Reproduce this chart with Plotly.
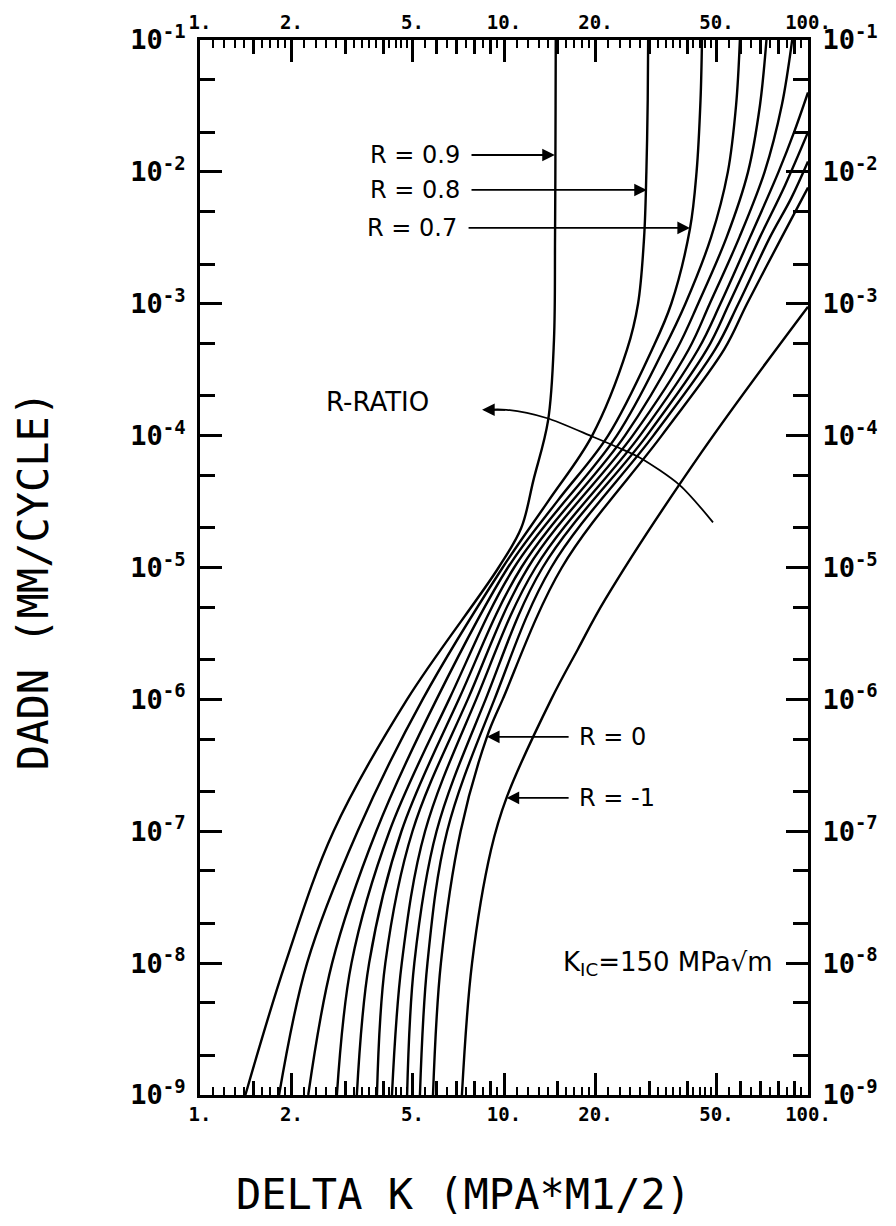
import numpy as np
import plotly.graph_objects as go

# ---------------- data ----------------
r_labels = ["0.9", "0.8", "0.7", "0.6", "0.5", "0.4", "0.3", "0.2", "0.1", "0", "-1"]

dk_r09 = [1.41, 1.91, 2.75, 4.8, 9.6, 11.4, 12.5, 13.96, 14.6, 14.72, 14.78, 14.8]
rate_r09 = [1e-9, 1e-8, 1e-7, 1e-6, 1e-5, 2.0e-5, 4.6e-5, 1.3e-4, 5.3e-4, 3.2e-3, 3.2e-2, 1e-1]

dk_r08 = [1.82, 2.25, 3.3, 5.4, 9.9, 14.0, 19.5, 25.4, 27.6, 28.9, 29.4, 29.7, 29.8]
rate_r08 = [1e-9, 1e-8, 1e-7, 1e-6, 1e-5, 3.2e-5, 1e-4, 4.5e-4, 1e-3, 3.2e-3, 1e-2, 3.5e-2, 1e-1]

dk_r07 = [2.27, 2.72, 3.8, 6.0, 10.3, 15.0, 22.0, 30.7, 35.5, 40.9, 43.0, 44.3, 44.8]
rate_r07 = [1e-9, 1e-8, 1e-7, 1e-6, 1e-5, 3.2e-5, 1e-4, 4.5e-4, 1e-3, 3.7e-3, 1e-2, 3.5e-2, 1e-1]

dk_r06 = [2.82, 3.15, 4.2, 6.6, 10.8, 23.5, 33.5, 39.5, 48.0, 54.5, 58.0, 59.7]
rate_r06 = [1e-9, 1e-8, 1e-7, 1e-6, 1e-5, 1e-4, 4.5e-4, 1e-3, 3.2e-3, 1e-2, 3.2e-2, 1e-1]

dk_r05 = [3.28, 3.6, 4.6, 7.1, 11.4, 25.0, 37.0, 43.5, 54.0, 63.5, 69.5, 73.0]
rate_r05 = [1e-9, 1e-8, 1e-7, 1e-6, 1e-5, 1e-4, 4.5e-4, 1e-3, 3.2e-3, 1e-2, 3.2e-2, 1e-1]

dk_r04 = [3.82, 4.07, 5.0, 7.6, 12.0, 26.5, 40.5, 47.5, 59.5, 72.0, 82.0, 88.7]
rate_r04 = [1e-9, 1e-8, 1e-7, 1e-6, 1e-5, 1e-4, 4.5e-4, 1e-3, 3.2e-3, 1e-2, 3.2e-2, 1e-1]

dk_r03 = [4.28, 4.61, 5.5, 8.1, 12.7, 28.0, 43.5, 51.5, 64.5, 80.0, 90.0, 100.0]
rate_r03 = [1e-9, 1e-8, 1e-7, 1e-6, 1e-5, 1e-4, 4.5e-4, 1e-3, 3.2e-3, 1e-2, 2.0e-2, 4.0e-2]

dk_r02 = [4.80, 5.07, 6.0, 8.7, 13.4, 29.5, 46.5, 55.0, 69.5, 84.0, 100.0]
rate_r02 = [1e-9, 1e-8, 1e-7, 1e-6, 1e-5, 1e-4, 4.5e-4, 1e-3, 3.2e-3, 7.9e-3, 2.0e-2]

dk_r01 = [5.29, 5.6, 6.5, 9.3, 14.3, 31.0, 49.5, 59.0, 75.0, 88.0, 100.0]
rate_r01 = [1e-9, 1e-8, 1e-7, 1e-6, 1e-5, 1e-4, 4.5e-4, 1e-3, 3.2e-3, 6.3e-3, 1.2e-2]

dk_r00 = [5.84, 6.2, 7.2, 8.79, 9.9, 15.5, 33.0, 53.0, 63.0, 82.0, 100.0]
rate_r00 = [1e-9, 1e-8, 1e-7, 5.2e-7, 1e-6, 1e-5, 1e-4, 4.5e-4, 1e-3, 3.2e-3, 7.6e-3]

dk_rm1 = [7.27, 7.85, 9.06, 10.2, 14.3, 17.5, 21.5, 44.5, 100.0]
rate_rm1 = [1e-9, 1e-8, 7.2e-8, 1.8e-7, 1e-6, 2.4e-6, 5.7e-6, 7.4e-5, 9.5e-4]

curves_dk = [dk_r09, dk_r08, dk_r07, dk_r06, dk_r05, dk_r04, dk_r03, dk_r02, dk_r01, dk_r00, dk_rm1]
curves_rate = [rate_r09, rate_r08, rate_r07, rate_r06, rate_r05, rate_r04, rate_r03, rate_r02,
               rate_r01, rate_r00, rate_rm1]

# R-ratio arc
arc_dk = [8.6, 10.2, 13.8, 19.6, 23.5, 28.0, 37.9, 48.7]
arc_rate = [1.57e-4, 1.57e-4, 1.36e-4, 9.8e-5, 8.2e-5, 6.8e-5, 4.2e-5, 2.2e-5]

# ticks
y_major = [1e-9, 1e-8, 1e-7, 1e-6, 1e-5, 1e-4, 1e-3, 1e-2, 1e-1]
y_text = ["10<sup>-9</sup>", "10<sup>-8</sup>", "10<sup>-7</sup>", "10<sup>-6</sup>", "10<sup>-5</sup>",
          "10<sup>-4</sup>", "10<sup>-3</sup>", "10<sup>-2</sup>", "10<sup>-1</sup>"]
y_minor = [m * d for d in [1e-9, 1e-8, 1e-7, 1e-6, 1e-5, 1e-4, 1e-3, 1e-2] for m in (2, 5)]
x_major = [1, 2, 5, 10, 20, 50, 100]
x_text = ["1.", "2.", "5.", "10.", "20.", "50.", "100."]
x_medium = [m * d for d in (1, 10) for m in (1.5, 3, 4, 6, 7, 8, 9)]
x_small = [round(m * d, 3) for d in (1, 10) for m in
           [1.1, 1.2, 1.3, 1.4, 1.6, 1.7, 1.8, 1.9, 2.2, 2.4, 2.6, 2.8, 3.2, 3.4, 3.6, 3.8,
            4.2, 4.4, 4.6, 4.8, 5.5, 6.5, 7.5, 8.5, 9.5]]

# ---------------- figure ----------------
fig = go.Figure()
for dk, rate in zip(curves_dk, curves_rate):
    fig.add_trace(go.Scatter(x=dk, y=rate, mode="lines",
                             line=dict(color="black", width=2.4, shape="spline", smoothing=1.0),
                             hoverinfo="skip", showlegend=False))

fig.add_trace(go.Scatter(x=arc_dk, y=arc_rate, mode="lines",
                         line=dict(color="black", width=1.8, shape="spline", smoothing=0.8),
                         hoverinfo="skip", showlegend=False))

# dummy traces so overlay axes render
for xa, ya in [("x2", "y2"), ("x3", "y"), ("x4", "y")]:
    fig.add_trace(go.Scatter(x=[10], y=[1e-5], mode="lines", xaxis=xa, yaxis=ya,
                             hoverinfo="skip", showlegend=False))

tick_font = dict(family="DejaVu Sans Mono", size=19, color="black", weight="bold")
ytick_font = dict(family="DejaVu Sans Mono", size=27, color="black", weight="bold")

xcommon = dict(type="log", range=[0, 2], ticks="inside", tickcolor="black", tickwidth=2.5,
               showgrid=False, zeroline=False)
ycommon = dict(type="log", range=[-9, -1], ticks="inside", tickcolor="black", tickwidth=2.5,
               showgrid=False, zeroline=False)

fig.update_layout(
    width=896, height=1226, autosize=False,
    margin=dict(l=200, r=88, t=40, b=131),
    paper_bgcolor="white", plot_bgcolor="white",
    xaxis=dict(**xcommon, side="bottom", tickmode="array", tickvals=x_major, ticktext=x_text,
               ticklen=22, showline=True, linecolor="black", linewidth=3, tickfont=tick_font,
               minor=dict(tickvals=x_small, ticks="inside", ticklen=8, tickwidth=2, tickcolor="black")),
    xaxis2=dict(**xcommon, side="top", overlaying="x", anchor="y", tickmode="array",
                tickvals=x_major, ticktext=x_text, ticklen=22, showline=True, linecolor="black",
                linewidth=3, tickfont=tick_font,
                minor=dict(tickvals=x_small, ticks="inside", ticklen=8, tickwidth=2, tickcolor="black")),
    xaxis3=dict(**xcommon, side="bottom", overlaying="x", anchor="y", tickmode="array",
                tickvals=x_medium, ticklen=14, showticklabels=False, showline=False),
    xaxis4=dict(**xcommon, side="top", overlaying="x", anchor="y", tickmode="array",
                tickvals=x_medium, ticklen=14, showticklabels=False, showline=False),
    yaxis=dict(**ycommon, side="left", tickmode="array", tickvals=y_major, ticktext=y_text,
               ticklen=22, showline=True, linecolor="black", linewidth=3, tickfont=ytick_font,
               ticklabelstandoff=6,
               minor=dict(tickvals=y_minor, ticks="inside", ticklen=15, tickwidth=2.5, tickcolor="black")),
    yaxis2=dict(**ycommon, side="right", overlaying="y", anchor="x", tickmode="array",
                tickvals=y_major, ticktext=y_text, ticklen=22, showline=True, linecolor="black",
                linewidth=3, tickfont=ytick_font, ticklabelstandoff=6,
                minor=dict(tickvals=y_minor, ticks="inside", ticklen=15, tickwidth=2.5, tickcolor="black")),
)

lx = np.log10
label_font = dict(family="DejaVu Sans", size=24, color="black")
ann = []


def arrow(tip_x, tip_y, tail_x, tail_y):
    ann.append(dict(x=lx(tip_x), y=lx(tip_y), ax=lx(tail_x), ay=lx(tail_y), xref="x", yref="y",
                    axref="x", ayref="y", text="", showarrow=True, arrowhead=2, arrowsize=1.4,
                    arrowwidth=1.8, arrowcolor="black"))


def label(x, y, text, size=24, xanchor="center"):
    ann.append(dict(x=lx(x), y=lx(y), xref="x", yref="y", text=text, showarrow=False,
                    xanchor=xanchor, yanchor="middle", font=dict(label_font, size=size)))


label(5.1, 10 ** -1.872, "R = 0.9")
arrow(14.7, 10 ** -1.872, 7.73, 10 ** -1.872)
label(5.1, 10 ** -2.137, "R = 0.8")
arrow(29.5, 10 ** -2.137, 7.73, 10 ** -2.137)
label(5.0, 10 ** -2.425, "R = 0.7")
arrow(40.9, 10 ** -2.425, 7.56, 10 ** -2.425)
label(22.7, 10 ** -6.284, "R = 0")
arrow(8.79, 10 ** -6.284, 16.5, 10 ** -6.284)
label(23.5, 10 ** -6.747, "R = -1")
arrow(10.2, 10 ** -6.747, 16.5, 10 ** -6.747)
label(3.85, 10 ** -3.745, "R-RATIO", size=26)
arrow(8.47, 1.57e-4, 10.2, 1.57e-4)
label(77.9, 10 ** -8.0, "K<sub>IC</sub>=150 MPa\u221am", size=26, xanchor="right")

ann.append(dict(x=-0.2747, y=0.488, xref="paper", yref="paper", text="DADN (MM/CYCLE)",
                xanchor="center", yanchor="middle", textangle=-90, showarrow=False,
                font=dict(family="DejaVu Sans Mono", size=42, color="black")))
ann.append(dict(x=0.4326, y=-0.0947, xref="paper", yref="paper", text="DELTA K (MPA*M1/2)",
                xanchor="center", yanchor="middle", showarrow=False,
                font=dict(family="DejaVu Sans Mono", size=42, color="black")))

fig.update_layout(annotations=ann)
fig.write_html("out.html")
